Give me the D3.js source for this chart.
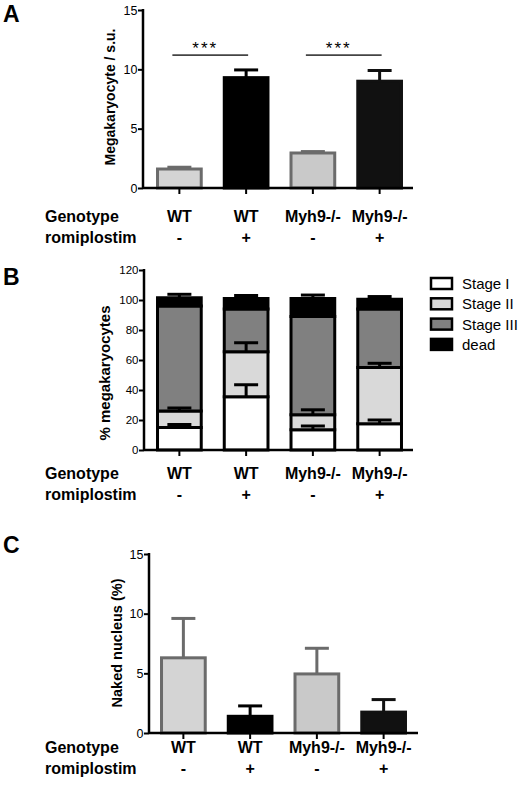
<!DOCTYPE html>
<html>
<head>
<meta charset="utf-8">
<script src="https://cdn.jsdelivr.net/npm/d3@7"></script>
<style>
    body { margin: 0; background: #fff; }
    text { font-family: "Liberation Sans", Arial, Helvetica, sans-serif; }
</style>
</head>
<body>
<script>
(function () {
    'use strict';

    // categories
    var genotype = ['WT', 'WT', 'Myh9-/-', 'Myh9-/-'];
    var romiplostim = ['-', '+', '-', '+'];
    var groups = genotype.map(function (g, i) { return g + romiplostim[i]; });

    // panel A: megakaryocytes per surface unit
    var mkMean = [1.6, 9.3, 2.95, 9.0];
    var mkErr = [0.15, 0.65, 0.12, 0.9];
    var mkTicks = [0, 5, 10, 15];
    var sigPairs = [[0, 1], [2, 3]];
    var sigLevel = 11.2;

    // panel B: maturation stages (%)
    var stageKeys = ['Stage I', 'Stage II', 'Stage III', 'dead'];
    var stage1 = [15, 35.5, 13.5, 17.5];
    var stage2 = [11, 30, 10, 37.5];
    var stage3 = [70, 28.5, 65.5, 39];
    var dead = [5.5, 7, 12, 6.5];
    var stage1Err = [2, 8, 2.5, 2.5];
    var stage2Err = [2, 6, 3.3, 2.8];
    var deadErr = [2.3, 2, 2.3, 1.8];
    var stageTicks = [0, 20, 40, 60, 80, 100, 120];
    var stageColors = ['#ffffff', '#d9d9d9', '#808080', '#000000'];

    // panel C: naked nucleus (%)
    var nakedMean = [6.3, 1.4, 4.95, 1.75];
    var nakedErr = [3.3, 0.87, 2.15, 1.05];
    var nakedTicks = [0, 5, 10, 15];

    var barFill = ['#d4d4d4', '#000000', '#c9c9c9', '#111111'];
    var barStroke = ['#6b6b6b', '#000000', '#6b6b6b', '#111111'];

    var svg = d3.select('body').append('svg')
        .attr('width', 520)
        .attr('height', 787);

    function bandScale(x0, x1) {
        return d3.scaleBand().domain(groups).range([x0, x1])
            .paddingInner(0.3).paddingOuter(0.15);
    }

    function drawAxes(x, y, axisX, axisEnd, ticks, fontSize) {
        var ya = svg.append('g')
            .attr('transform', 'translate(' + axisX + ',0)')
            .call(d3.axisLeft(y).tickValues(ticks).tickSize(5).tickPadding(0.5));
        ya.select('.domain').remove();
        ya.selectAll('line').attr('stroke', '#000').attr('stroke-width', 2);
        ya.selectAll('text')
            .attr('fill', '#000')
            .style('font-size', fontSize + 'px')
            .style('font-family', '"Liberation Sans", Arial, sans-serif');

        var xa = svg.append('g')
            .attr('transform', 'translate(0,' + y(0) + ')')
            .call(d3.axisBottom(x).tickSize(6).tickFormat(''));
        xa.select('.domain').remove();
        xa.selectAll('line').attr('stroke', '#000').attr('stroke-width', 2);

        svg.append('line')
            .attr('x1', axisX).attr('x2', axisX)
            .attr('y1', y.range()[1] - 1).attr('y2', y(0) + 1)
            .attr('stroke', '#000').attr('stroke-width', 2.5);
        svg.append('line')
            .attr('x1', axisX).attr('x2', axisEnd)
            .attr('y1', y(0)).attr('y2', y(0))
            .attr('stroke', '#000').attr('stroke-width', 2.5);
    }

    function drawCategoryRows(x, rowY) {
        var rows = [{ name: 'Genotype', vals: genotype, y: rowY },
                    { name: 'romiplostim', vals: romiplostim, y: rowY + 21 }];
        rows.forEach(function (r) {
            svg.append('text')
                .attr('x', 45).attr('y', r.y)
                .attr('font-size', 16).attr('font-weight', 'bold')
                .text(r.name);
            svg.selectAll(null).data(r.vals).enter().append('text')
                .attr('x', function (d, i) { return x(groups[i]) + x.bandwidth() / 2; })
                .attr('y', r.y)
                .attr('text-anchor', 'middle')
                .attr('font-size', 16).attr('font-weight', 'bold')
                .text(function (d) { return d; });
        });
    }

    function panelLetter(letter, y) {
        svg.append('text')
            .attr('x', 3).attr('y', y)
            .attr('font-size', 23).attr('font-weight', 'bold')
            .text(letter);
    }

    function yLabel(text, cx, cy, size) {
        svg.append('text')
            .attr('transform', 'translate(' + cx + ',' + cy + ') rotate(-90)')
            .attr('dy', '0.35em')
            .attr('text-anchor', 'middle')
            .attr('font-size', size).attr('font-weight', 'bold')
            .text(text);
    }

    function errorBar(cx, yTop, yEnd, color) {
        svg.append('line')
            .attr('x1', cx).attr('x2', cx).attr('y1', yTop).attr('y2', yEnd)
            .attr('stroke', color).attr('stroke-width', 3);
        svg.append('line')
            .attr('x1', cx - 12).attr('x2', cx + 12).attr('y1', yEnd).attr('y2', yEnd)
            .attr('stroke', color).attr('stroke-width', 3);
    }

    function simpleBars(x, y, means, errs) {
        var c = function (i) { return x(groups[i]) + x.bandwidth() / 2; };
        means.forEach(function (m, i) {
            errorBar(c(i), y(m), y(m + errs[i]), barStroke[i]);
        });
        svg.selectAll(null).data(means).enter().append('rect')
            .attr('x', function (d, i) { return x(groups[i]) + 1.5; })
            .attr('width', x.bandwidth() - 3)
            .attr('y', function (d) { return y(d); })
            .attr('height', function (d) { return y(0) - y(d); })
            .attr('fill', function (d, i) { return barFill[i]; })
            .attr('stroke', function (d, i) { return barStroke[i]; })
            .attr('stroke-width', 3);
    }

    // ---------- panel A ----------
    var xA = bandScale(146, 413);
    var yA = d3.scaleLinear().domain([0, 15]).range([188, 10]);
    panelLetter('A', 22);
    simpleBars(xA, yA, mkMean, mkErr);
    drawAxes(xA, yA, 143, 413, mkTicks, 12.5);
    yLabel('Megakaryocyte / s.u.', 110, 97, 14);
    sigPairs.forEach(function (p) {
        var a = xA(groups[p[0]]) + xA.bandwidth() / 2;
        var b = xA(groups[p[1]]) + xA.bandwidth() / 2;
        var x1 = a - 7, x2 = b + 2;
        svg.append('line')
            .attr('x1', x1).attr('x2', x2)
            .attr('y1', yA(sigLevel)).attr('y2', yA(sigLevel))
            .attr('stroke', '#444').attr('stroke-width', 1.8);
        svg.append('text')
            .attr('x', (x1 + x2) / 2 - 5).attr('y', yA(sigLevel) - 1.5)
            .attr('text-anchor', 'middle')
            .attr('font-size', 17).attr('letter-spacing', 2)
            .text('***');
    });
    drawCategoryRows(xA, 222);

    // ---------- panel B ----------
    var xB = bandScale(146, 413);
    var yB = d3.scaleLinear().domain([0, 120]).range([450, 270]);
    panelLetter('B', 285);

    var stageRows = groups.map(function (g, i) {
        return { group: g, 'Stage I': stage1[i], 'Stage II': stage2[i],
                 'Stage III': stage3[i], 'dead': dead[i] };
    });
    var stacked = d3.stack().keys(stageKeys)(stageRows);
    var stageErrs = [stage1Err, stage2Err, null, deadErr];

    svg.append('g').selectAll('g').data(stacked).enter().append('g')
        .attr('fill', function (d, k) { return stageColors[k]; })
        .selectAll('rect').data(function (d) { return d; }).enter().append('rect')
        .attr('x', function (d) { return xB(d.data.group) + 1.5; })
        .attr('width', xB.bandwidth() - 3)
        .attr('y', function (d) { return yB(d[1]); })
        .attr('height', function (d) { return yB(d[0]) - yB(d[1]); })
        .attr('stroke', '#000').attr('stroke-width', 3);

    stacked.forEach(function (s, k) {
        if (!stageErrs[k]) return;
        s.forEach(function (d, i) {
            var cx = xB(d.data.group) + xB.bandwidth() / 2;
            errorBar(cx, yB(d[1]), yB(d[1] + stageErrs[k][i]), '#000');
        });
    });

    drawAxes(xB, yB, 144, 413, stageTicks, 11.5);
    yLabel('% megakaryocytes', 105, 373, 15);

    var legend = svg.append('g').selectAll('g').data(stageKeys).enter().append('g')
        .attr('transform', function (d, i) { return 'translate(431,' + (278 + i * 20.3) + ')'; });
    legend.append('rect')
        .attr('width', 21).attr('height', 11)
        .attr('fill', function (d, i) { return stageColors[i]; })
        .attr('stroke', '#000').attr('stroke-width', 2.5);
    legend.append('text')
        .attr('x', 31).attr('y', 11)
        .attr('font-size', 15)
        .text(function (d) { return d; });

    drawCategoryRows(xB, 479);

    // ---------- panel C ----------
    var xC = bandScale(150, 417);
    var yC = d3.scaleLinear().domain([0, 15]).range([733, 554]);
    panelLetter('C', 553);
    simpleBars(xC, yC, nakedMean, nakedErr);
    drawAxes(xC, yC, 149, 418, nakedTicks, 12.5);
    yLabel('Naked nucleus (%)', 117, 643, 14.5);
    drawCategoryRows(xC, 753);
})();
</script>
</body>
</html>
